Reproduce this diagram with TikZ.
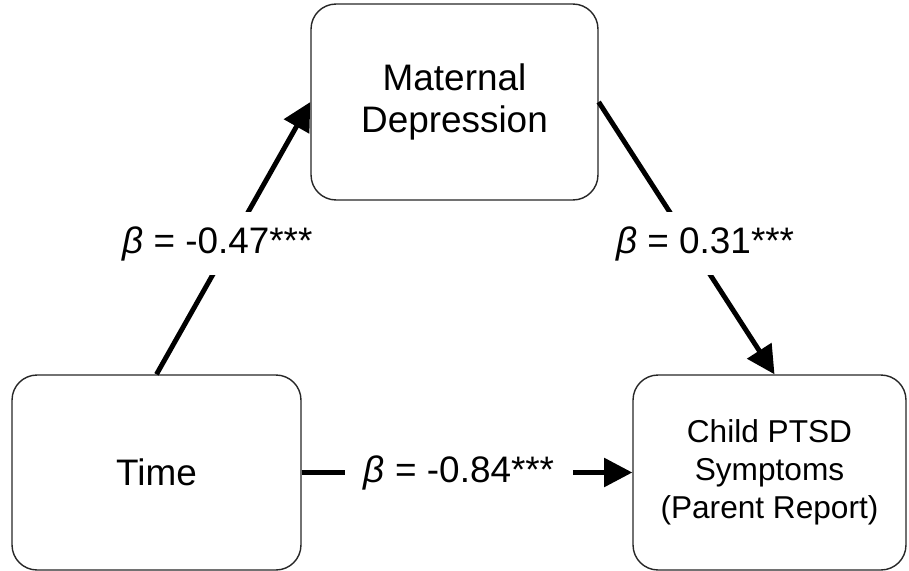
\documentclass[tikz,border=0pt]{standalone}
\usepackage{fontspec}
\setmainfont{Liberation Sans}
\usetikzlibrary{arrows.meta}

\begin{document}
\begin{tikzpicture}[x=0.02cm, y=-0.02cm,
    box/.style = {draw=black!85, line width=0.8pt, rounded corners=0.5cm, align=center, inner sep=0pt},
    effect/.style = {line width=2.8pt, -{Triangle[length=16pt,width=16pt]}},
    coef/.style = {fill=white, inner xsep=0.38cm, inner ysep=0.28cm, font=\fontsize{21}{24}\selectfont}]
    \useasboundingbox (0,0) rectangle (909,571);
    % the three variables
    \node[box, minimum width=5.74cm, minimum height=3.92cm, font=\fontsize{21}{23.5}\selectfont] (dep) at (454.5,102) {Maternal\\Depression};
    \node[box, minimum width=5.78cm, minimum height=3.9cm, font=\fontsize{21}{24}\selectfont] (time) at (156.5,472.5) {Time};
    \node[box, minimum width=5.46cm, minimum height=3.9cm, font=\fontsize{18}{21.5}\selectfont] (ptsd) at (769.5,472.5) {Child PTSD\\Symptoms\\(Parent Report)};
    % paths with standardised coefficients
    \draw[effect] (time.north) -- node[coef, pos=0.48, xshift=-0.26cm] (b1) {\textit{β} = -0.47***} (dep.west);
    \draw[effect] (dep.east) -- node[coef, pos=0.52, xshift=0.3cm] (b2) {\textit{β} = 0.31***} ([xshift=0.1cm]ptsd.north);
    \draw[effect] (time.east) -- node[coef, xshift=-0.16cm] (b3) {\textit{β} = -0.84***} (ptsd.west);
\end{tikzpicture}
\end{document}
